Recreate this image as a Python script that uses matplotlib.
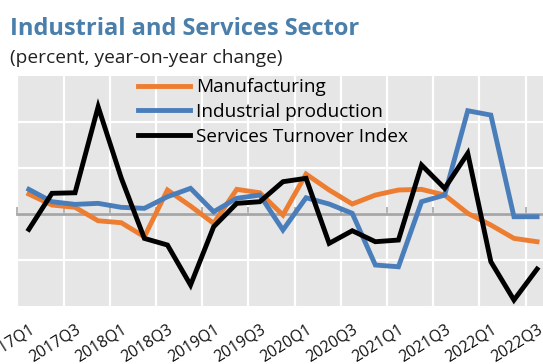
import matplotlib
matplotlib.use("Agg")
import matplotlib.pyplot as plt
import numpy as np

plt.rcParams['font.family'] = ['Open Sans', 'DejaVu Sans']

quarters = ["2017Q1", "2017Q2", "2017Q3", "2017Q4", "2018Q1", "2018Q2", "2018Q3", "2018Q4",
            "2019Q1", "2019Q2", "2019Q3", "2019Q4", "2020Q1", "2020Q2", "2020Q3", "2020Q4",
            "2021Q1", "2021Q2", "2021Q3", "2021Q4", "2022Q1", "2022Q2", "2022Q3"]

manufacturing = [2.19, 1.00, 0.75, -0.71, -0.92, -2.44, 2.63, 0.89, -0.99, 2.70, 2.33, -0.09,
                 4.36, 2.63, 1.11, 2.08, 2.63, 2.70, 2.08, 0.10, -1.17, -2.62, -2.98]
industrial = [2.70, 1.36, 1.07, 1.18, 0.75, 0.64, 1.90, 2.81, 0.27, 1.73, 2.08, -1.71,
              1.79, 1.11, 0.10, -5.51, -5.70, 1.36, 2.08, 11.23, 10.76, -0.27, -0.27]
services = [-1.64, 2.27, 2.33, 11.66, 3.93, -2.62, -3.34, -7.68, -1.36, 1.18, 1.36, 3.53,
            3.90, -3.16, -1.79, -2.98, -2.80, 5.34, 2.81, 6.61, -5.15, -9.31, -5.95]

series_names = ["Manufacturing", "Industrial production", "Services Turnover Index"]
colors = ["#ED7D31", "#4A7EBB", "#000000"]

W, H = 543, 364
fig = plt.figure(figsize=(W / 100, H / 100), dpi=100)
fig.patch.set_facecolor("white")

left_px, right_px, top_px, bottom_px = 17.3, 548.6, 76.0, 306.4
ax = fig.add_axes([left_px / W, 1 - bottom_px / H, (right_px - left_px) / W, (bottom_px - top_px) / H])
ax.set_facecolor("#E6E6E6")

x = np.arange(len(quarters))
for vals, name, c in zip([manufacturing, industrial, services], series_names, colors):
    ax.plot(x, vals, color=c, lw=3.5, label=name, solid_joinstyle="miter", zorder=3)

ax.set_xlim(-0.5, len(quarters) - 0.5)
ax.set_ylim(-10, 15)

# grid
ax.set_yticks([-5, 0, 5, 10])
ax.set_xticks(np.arange(-0.5, len(quarters) - 0.5, 2))
ax.grid(True, color="white", lw=1.6, zorder=0)
ax.set_axisbelow(True)
ax.tick_params(axis="y", length=0, labelleft=False)
ax.tick_params(axis="x", direction="in", length=5, width=1.2, color="#A6A6A6", labelbottom=False)

for s in ["top", "right", "left"]:
    ax.spines[s].set_visible(False)
ax.spines["bottom"].set_position(("data", 0))
ax.spines["bottom"].set_color("#A6A6A6")
ax.spines["bottom"].set_linewidth(2.0)
ax.spines["bottom"].set_zorder(2)

# category labels at the bottom
sec = ax.secondary_xaxis("bottom")
sec.spines["bottom"].set_visible(False)
sec.set_xticks(x[::2])
sec.set_xticklabels(quarters[::2], rotation=32, ha="right", va="top", rotation_mode="anchor",
                    fontsize=11.3, color="#111111")
sec.tick_params(length=0, pad=11)

leg = ax.legend(loc="upper left", bbox_to_anchor=(0.227, 0.99), frameon=False, fontsize=13.7,
                handlelength=2.75, handletextpad=0.3, labelspacing=0.36, borderpad=0.0,
                borderaxespad=0.0)

fig.text(10 / W, 1 - 35 / H, "Industrial and Services Sector", fontsize=17, fontweight="bold",
         color="#4A7EAB", ha="left", va="baseline")
fig.text(10 / W, 1 - 63 / H, "(percent, year-on-year change)", fontsize=13.8, color="#222222",
         ha="left", va="baseline")

fig.savefig("out.png", dpi=100)
